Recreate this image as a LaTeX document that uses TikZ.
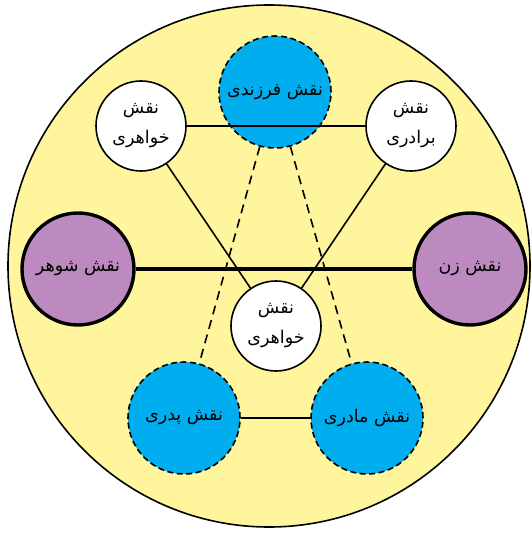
\documentclass[tikz,border=0pt]{standalone}
\usepackage{fontspec}
\newfontfamily\arabicfont[Script=Arabic]{DejaVu Sans}
\TeXXeTstate=1
\newcommand{\fa}[1]{\beginR#1\endR}
\definecolor{bgyellow}{RGB}{255,245,157}
\definecolor{kidblue}{RGB}{0,174,239}
\definecolor{spousepurple}{RGB}{188,138,191}

\begin{document}
\begin{tikzpicture}[x=1pt,y=-1pt,
  every node/.style={font=\arabicfont\fontsize{17.5}{30}\selectfont},
  role/.style={circle,draw,line width=1.6pt,inner sep=0pt,align=center},
  sibling/.style={role,fill=white,minimum size=90pt},
  parent/.style={role,fill=kidblue,minimum size=112pt,dash pattern=on 6pt off 3.5pt},
  spouse/.style={role,fill=spousepurple,minimum size=112pt,line width=3.4pt},
  link/.style={line width=1.6pt},
  dashlink/.style={link,dash pattern=on 9pt off 6pt},
  marriage/.style={line width=3.4pt}]
  \useasboundingbox (0,0) rectangle (531,537);
  \draw[fill=bgyellow,line width=1.6pt] (269,266) circle (261);
  \node[parent] (farzandi) at (275,92) {\fa{نقش فرزندی}};
  \node[sibling] (khahari) at (141,126) {\fa{نقش}\\\fa{خواهری}};
  \node[sibling] (baradari) at (411,126) {\fa{نقش}\\\fa{برادری}};
  \node[spouse] (shohar) at (78,269) {\fa{نقش شوهر}};
  \node[spouse] (zan) at (470,269) {\fa{نقش زن}};
  \node[sibling] (khaharimid) at (276,326) {\fa{نقش}\\\fa{خواهری}};
  \node[parent] (pedari) at (184,418) {\fa{نقش پدری}};
  \node[parent] (madari) at (367,418) {\fa{نقش مادری}};
  \draw[link] (khahari) -- (baradari);
  \draw[marriage] (shohar) -- (zan);
  \draw[link] (khahari) -- (khaharimid);
  \draw[link] (baradari) -- (khaharimid);
  \draw[dashlink] (farzandi) -- (pedari);
  \draw[dashlink] (farzandi) -- (madari);
  \draw[link] (pedari) -- (madari);
\end{tikzpicture}
\end{document}
